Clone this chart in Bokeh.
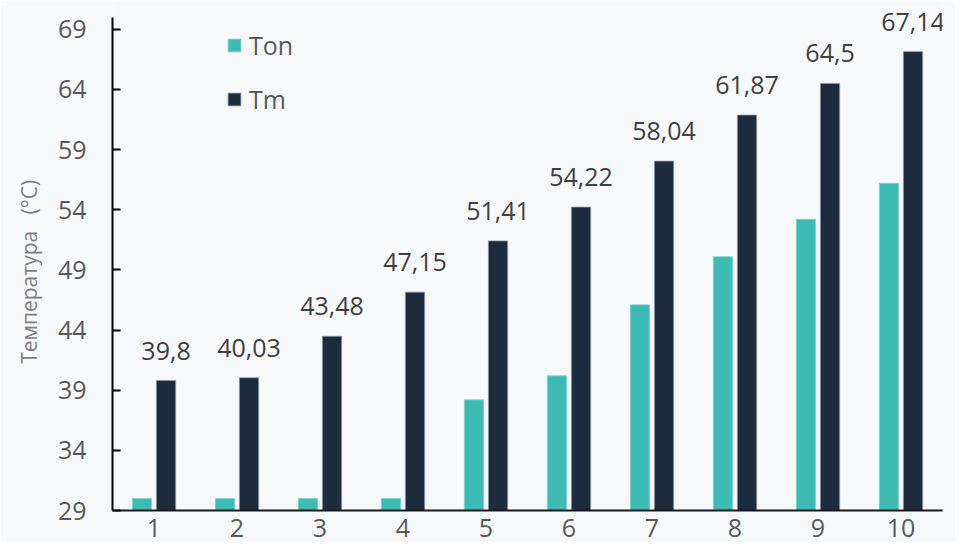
from bokeh.plotting import figure
from bokeh.models import ColumnDataSource, FactorRange, Range1d, FixedTicker, Legend, LegendItem, LabelSet
from bokeh.transform import dodge
from bokeh.core.properties import value
from bokeh.embed import file_html
from bokeh.resources import INLINE

categories = ["1", "2", "3", "4", "5", "6", "7", "8", "9", "10"]
ton = [30.0, 30.0, 30.0, 30.0, 38.2, 40.2, 46.1, 50.1, 53.2, 56.2]
tm = [39.8, 40.03, 43.48, 47.15, 51.41, 54.22, 58.04, 61.87, 64.5, 67.14]
tm_labels = ["39,8", "40,03", "43,48", "47,15", "51,41", "54,22", "58,04", "61,87", "64,5", "67,14"]
y_ticks = [29, 34, 39, 44, 49, 54, 59, 64, 69]
y_min, y_axis_max, y_view_max = 29, 70, 71.39

BG = "#F8F9FB"
TEAL = "#3DBCB3"
NAVY = "#1E2B3C"
FONT = "Open Sans"

src = ColumnDataSource(dict(cat=categories, ton=ton, tm=tm, lbl=tm_labels))

p = figure(x_range=FactorRange(*categories), y_range=Range1d(y_min, y_view_max),
           width=955, height=542, output_backend="svg", toolbar_location=None,
           background_fill_color=BG, border_fill_color=BG,
           min_border_left=112, min_border_right=13, min_border_top=0, min_border_bottom=32)
p.outline_line_color = None
p.grid.grid_line_color = None

r_ton = p.vbar(x=dodge("cat", -0.145, range=p.x_range), top="ton", bottom=y_min, width=0.232,
               source=src, fill_color=TEAL, line_color="#7FD6CE", line_width=0.8)
r_tm = p.vbar(x=dodge("cat", 0.145, range=p.x_range), top="tm", bottom=y_min, width=0.232,
              source=src, fill_color=NAVY, line_color="#8E97A1", line_width=0.8)

labels = LabelSet(x=dodge("cat", 0.145, range=p.x_range), y="tm", text="lbl", source=src,
                  text_align="center", text_baseline="alphabetic", y_offset=21,
                  text_font=value(FONT), text_font_size=value("25px"), text_color=value("#404040"))
p.add_layout(labels)

# y axis
ya = p.yaxis[0]
ya.ticker = FixedTicker(ticks=y_ticks)
ya.bounds = (y_min, y_axis_max)
ya.axis_line_color = "black"
ya.axis_line_width = 2
ya.major_tick_line_color = "black"
ya.major_tick_line_width = 2
ya.major_tick_in = 8
ya.major_tick_out = 0
ya.minor_tick_line_color = None
ya.major_label_text_font = FONT
ya.major_label_text_font_size = "25px"
ya.major_label_text_color = "#595959"
ya.major_label_standoff = 26
ya.axis_label = "Температура\u00a0\u00a0\u00a0(°C)" + "\u00a0" * 6
ya.axis_label_text_font = FONT
ya.axis_label_text_font_size = "21px"
ya.axis_label_text_font_style = "normal"
ya.axis_label_text_color = "#7F7F7F"
ya.axis_label_standoff = 12

xa = p.xaxis[0]
xa.axis_line_color = "#1a1a1a"
xa.axis_line_width = 2
xa.major_tick_line_color = None
xa.minor_tick_line_color = None
xa.major_label_text_font = FONT
xa.major_label_text_font_size = "25px"
xa.major_label_text_color = "#595959"
xa.major_label_standoff = 2

legend = Legend(items=[LegendItem(label="Ton", renderers=[r_ton]),
                       LegendItem(label="Tm", renderers=[r_tm])],
                location=(114, 394), orientation="vertical",
                glyph_width=16, glyph_height=16, label_standoff=7,
                spacing=20, padding=0, margin=0,
                label_text_font=FONT, label_text_font_size="25px",
                label_text_color="#595959",
                background_fill_alpha=0, border_line_color=None)
p.add_layout(legend, "center")

open("out.html", "w").write(file_html(p, INLINE))
